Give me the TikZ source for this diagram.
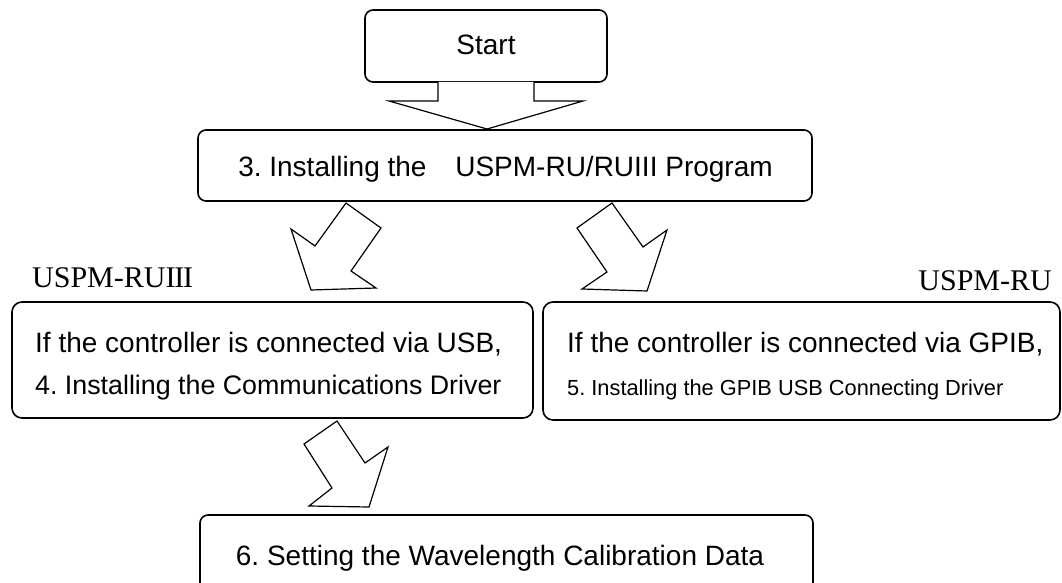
\documentclass[tikz,border=0pt]{standalone}
\usepackage{fontspec}
\setsansfont{Liberation Sans}
\newfontfamily\jserif{Liberation Serif}
\frenchspacing
\begin{document}
\begin{tikzpicture}[x=1pt,y=-1pt,
  box/.style={draw, rounded corners=8pt, line width=1.6pt, inner sep=0pt},
  blk/.style={draw, line width=1.2pt, line join=miter, fill=white},
  txt/.style={font=\sffamily\fontsize{28}{32}\selectfont, inner sep=0pt},
  txtb/.style={font=\sffamily\fontsize{26.8}{32}\selectfont, inner sep=0pt},
  small/.style={font=\sffamily\fontsize{21.8}{26}\selectfont, inner sep=0pt},
  ser/.style={font=\jserif\fontsize{30}{34}\selectfont, inner sep=0pt}]
\useasboundingbox (0,0) rectangle (1062,583);
\clip (0,0) rectangle (1062,583);

% boxes
\node[box, minimum width=242pt, minimum height=72pt] (start) at (486,46) {};
\node[box, minimum width=614pt, minimum height=71pt] (inst) at (505,165.5) {};
\node[box, minimum width=521pt, minimum height=116pt, rounded corners=10pt] (usb) at (272.5,360) {};
\node[box, minimum width=517pt, minimum height=118pt, rounded corners=10pt] (gpib) at (801.5,361) {};
\node[box, minimum width=613pt, minimum height=80pt] (cal) at (506.5,555) {};

% texts
\node[txt, anchor=base] (startT) at (486,55) {Start};
\node[txt, anchor=base] (instT) at (505.5,176) {3. Installing the\hspace{21pt} USPM-RU/RUIII Program};
\node[txt, anchor=base west] (usbA) at (35,352) {If the controller is connected via USB,};
\node[txtb, anchor=base west] (usbB) at (35,394) {4. Installing the Communications Driver};
\node[txt, anchor=base west] (gpibA) at (567,352) {If the controller is connected via GPIB,};
\node[small, anchor=base west] (gpibB) at (567,395) {5. Installing the GPIB USB Connecting Driver};
\node[txt, anchor=base] (calT) at (500,565) {6. Setting the Wavelength Calibration Data};
\node[ser, anchor=base west] (ru3) at (32,287) {USPM-RUI\kern-0.04em I\kern-0.04em I};
\node[ser, anchor=base east] (ru) at (1052,290.5) {USPM-RU};

% block arrows
\draw[blk] (438,82) -- (438,101) -- (389,101) -- (487,129) -- (583,101) -- (534,101) -- (534,82);
\draw[blk] (346,203) -- (381,228) -- (351,271) -- (376,288) -- (311,290) -- (291,229) -- (315,246) -- cycle;
\draw[blk] (612,203) -- (643,247) -- (667,230) -- (647,291) -- (582,289) -- (607,272) -- (577,228) -- cycle;
\draw[blk] (337,421) -- (365,463) -- (388,447) -- (369,507) -- (309,506) -- (332,488) -- (304,444) -- cycle;
\end{tikzpicture}
\end{document}
